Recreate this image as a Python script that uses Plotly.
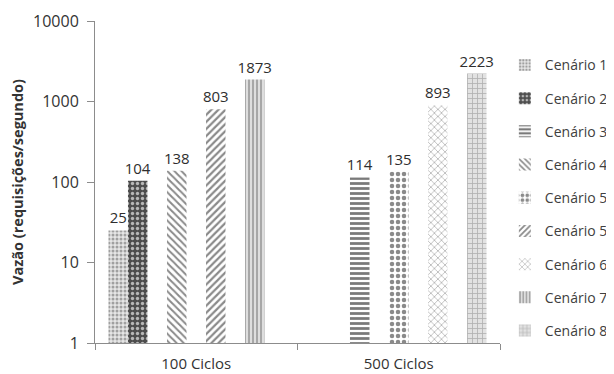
import plotly.graph_objects as go

categories = ["100 Ciclos", "500 Ciclos"]
series_names = ["Cenário 1", "Cenário 2", "Cenário 3", "Cenário 4", "Cenário 5",
                "Cenário 5", "Cenário 6", "Cenário 7", "Cenário 8"]
# value per category (None = no bar in that group)
series_values = [
    [25, None],
    [104, None],
    [None, 114],
    [138, None],
    [None, 135],
    [803, None],
    [None, 893],
    [1873, None],
    [None, 2223],
]
y_tick_vals = [1, 10, 100, 1000, 10000]
y_tick_text = ["1", "10", "100", "1000", "10000"]

styles = [
    dict(shape=".", fg="#a0a0a0", bg="#e6e6e6", size=4, sol=0.45),
    dict(shape=".", fg="#b8b8b8", bg="#4d4d4d", size=5, sol=0.35),
    dict(shape="-", fg="#7a7a7a", bg="#ffffff", size=5, sol=0.55),
    dict(shape="\\", fg="#8a8a8a", bg="#ffffff", size=5, sol=0.4),
    dict(shape=".", fg="#8a8a8a", bg="#ffffff", size=6, sol=0.45),
    dict(shape="/", fg="#8a8a8a", bg="#ffffff", size=5, sol=0.45),
    dict(shape="x", fg="#b5b5b5", bg="#ffffff", size=5, sol=0.3),
    dict(shape="|", fg="#999999", bg="#dedede", size=4, sol=0.4),
    dict(shape="+", fg="#b0b0b0", bg="#e2e2e2", size=5, sol=0.3),
]

FONT = "'Open Sans', Lato, sans-serif"
fig = go.Figure()
for i, (name, vals) in enumerate(zip(series_names, series_values)):
    s = styles[i]
    fig.add_trace(go.Bar(
        name=name,
        x=categories,
        y=vals,
        text=[str(v) if v is not None else "" for v in vals],
        textposition="outside",
        constraintext="none",
        cliponaxis=False,
        textfont=dict(family=FONT, size=15, color="#2e2e2e"),
        legendgroup=f"g{i}",
        marker=dict(
            color=s["fg"],
            line=dict(width=0),
            pattern=dict(shape=s["shape"], fgcolor=s["fg"], bgcolor=s["bg"],
                         size=s["size"], solidity=s["sol"], fillmode="replace"),
        ),
    ))

# page body has an 8px default margin, so the figure is 8px smaller
fig.update_layout(
    width=606, height=366,
    margin=dict(l=87, r=114, t=13, b=31, autoexpand=False),
    paper_bgcolor="white", plot_bgcolor="white",
    barmode="group", bargap=0.133, bargroupgap=0,
    font=dict(family=FONT, size=14, color="#333333"),
    showlegend=True,
    legend=dict(x=1.012, y=0.912, xanchor="left", yanchor="top",
                traceorder="grouped", tracegroupgap=12,
                font=dict(family=FONT, size=14, color="#404040"),
                itemwidth=30),
)
fig.update_xaxes(
    type="category", showline=True, linecolor="#8c8c8c", linewidth=1,
    ticks="outside", tickson="boundaries", ticklen=6, tickcolor="#8c8c8c",
    showgrid=False, ticklabelstandoff=7,
    tickfont=dict(family=FONT, size=15, color="#333333"),
)
fig.update_yaxes(
    type="log", range=[0, 4], tickvals=y_tick_vals, ticktext=y_tick_text,
    showline=True, linecolor="#8c8c8c", linewidth=1, ticks="outside",
    ticklen=7, tickcolor="#8c8c8c", showgrid=False, zeroline=False,
    ticklabelstandoff=5,
    tickfont=dict(family=FONT, size=16, color="#333333"),
    title=dict(text="<b>Vazão (requisições/segundo)</b>",
               font=dict(family=FONT, size=14.5, color="#333333"), standoff=7),
)
fig.write_html("out.html")
